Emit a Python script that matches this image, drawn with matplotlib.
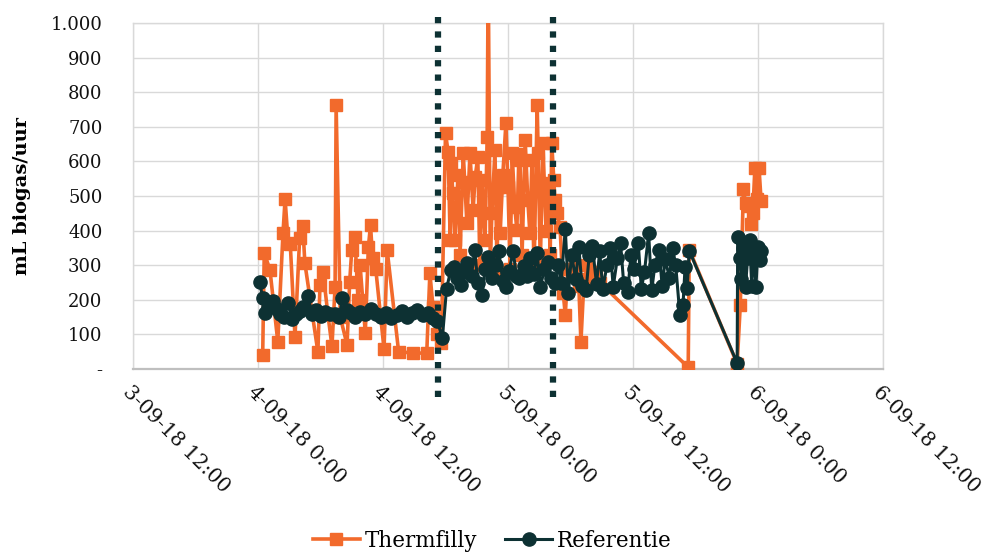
import matplotlib
matplotlib.use("Agg")
import matplotlib.pyplot as plt
import matplotlib.dates as mdates
from matplotlib.ticker import FuncFormatter, MultipleLocator
from datetime import datetime, timedelta

# ---------------- data (hours after 4-09-18 0:00) ----------------
therm_hours = [0.45, 0.6, 1.15, 1.9, 2.4, 2.6, 2.9, 3.1, 3.55, 4.0, 4.3, 4.5, 5.75, 5.95,
               6.25, 6.7, 7.1, 7.4, 7.5, 7.9, 8.55, 8.8, 9.0, 9.3, 9.6, 9.8, 10.3, 10.6,
               10.8, 11.0, 11.3, 12.1, 12.4, 13.5, 14.9, 16.2, 16.5, 16.8, 17.2, 17.6,
               18.0, 18.25, 18.45, 18.55, 18.7, 18.9, 19.2, 19.4, 19.7, 19.85, 20.05, 20.35,
               20.65, 20.85, 21.1, 21.3, 21.5, 21.8, 22.0, 22.1, 22.3, 22.45, 22.75, 22.95,
               23.05, 23.25, 23.5, 23.8, 24.0, 24.2, 24.4, 24.65, 24.85, 25.05, 25.15, 25.35,
               25.65, 25.9, 26.1, 26.3, 26.5, 26.8, 26.9, 27.1, 27.35, 27.65, 27.85, 28.05,
               28.2, 28.4, 28.5, 28.7, 29.0, 29.3, 29.5, 29.75, 30.15, 30.45, 30.8, 31.0,
               31.3, 31.7, 32.05, 32.45, 32.8,
               41.3, 41.4,
               46.0, 46.3, 46.6, 46.8, 47.0, 47.3, 47.5, 47.7, 47.9, 48.1, 48.3]
therm_values = [40, 336, 286, 79, 393, 491, 364, 360, 92, 380, 413, 306, 49, 243,
                280, 160, 66, 237, 763, 150, 70, 251, 344, 382, 200, 300, 104, 353,
                416, 321, 290, 57, 344, 50, 46, 46, 277, 180, 100, 75,
                682, 627, 373, 595, 508, 373, 560, 330, 624, 541, 422, 624,
                460, 555, 613, 300, 546, 373, 671, 1150, 300, 450, 633, 280,
                526, 393, 560, 711, 526, 290, 624, 468, 402, 620, 604, 330,
                662, 488, 393, 604, 280, 763, 624, 300, 653, 400, 537, 330,
                653, 546, 488, 451, 410, 220, 156, 290, 270, 300, 240, 78,
                260, 300, 250, 280, 250,
                5, 345,
                15, 185, 520, 480, 470, 420, 450, 580, 490, 580, 485]

ref_hours = [0.15, 0.45, 0.7, 1.0, 1.4, 1.8, 2.1, 2.5, 2.9, 3.25, 3.6, 4.0, 4.3, 4.8,
             5.2, 5.6, 6.0, 6.4, 6.9, 7.4, 7.8, 8.1, 8.5, 8.9, 9.3, 9.8, 10.3, 10.8,
             11.3, 11.8, 12.3, 12.8, 13.3, 13.8, 14.3, 14.8, 15.3, 15.8, 16.3, 16.8,
             17.2, 17.7, 18.1, 18.5,
             18.8, 19.1, 19.5, 19.8, 20.1, 20.5, 20.8, 21.1, 21.5, 21.8, 22.1, 22.5,
             22.8, 23.1, 23.5, 23.8, 24.1, 24.5, 24.8, 25.1, 25.5, 25.8, 26.1, 26.5,
             26.8, 27.1, 27.5, 27.8, 28.1, 28.5, 28.8, 29.1, 29.5, 29.8, 30.1, 30.5,
             30.8, 31.1, 31.5, 31.8, 32.1, 32.5, 32.8, 33.1, 33.5, 33.8, 34.1, 34.5,
             34.8, 35.1, 35.5, 35.8, 36.1, 36.5, 36.8, 37.1, 37.5, 37.8, 38.1, 38.5,
             38.8, 39.1, 39.5, 39.8, 40.1, 40.5, 40.8, 41.0, 41.2, 41.4,
             46.0, 46.05, 46.25, 46.4, 46.6, 46.8, 47.0, 47.2, 47.4, 47.6, 47.8, 48.0,
             48.2, 48.3]
ref_values = [252, 205, 162, 180, 197, 172, 160, 150, 192, 145, 160, 168, 180, 210,
              158, 170, 152, 165, 158, 160, 150, 205, 170, 163, 150, 165, 158, 172,
              158, 150, 163, 148, 155, 168, 150, 163, 170, 155, 163, 148,
              140, 90, 232, 285,
              295, 262, 243, 280, 306, 270, 345, 250, 214, 290, 324, 262,
              300, 342, 255, 237, 282, 342, 268, 262, 298, 270, 322, 275,
              335, 236, 290, 310, 262, 248, 300, 250, 405, 220, 330, 260,
              352, 240, 228, 330, 356, 245, 340, 232, 300, 350, 238, 320,
              365, 250, 223, 330, 290, 365, 232, 280, 392, 228, 300, 345,
              240, 318, 262, 350, 300, 156, 185, 295, 234, 342,
              17, 381, 321, 260, 350, 237, 320, 372, 240, 350, 237, 352,
              315, 340]

marker_hours = [17.25, 28.3]  # dotted vertical markers

series_names = ["Thermfilly", "Referentie"]
y_ticks = [0, 100, 200, 300, 400, 500, 600, 700, 800, 900, 1000]

# ---------------- plot ----------------
base = datetime(2018, 9, 4, 0, 0)
to_dt = lambda hs: [base + timedelta(hours=h) for h in hs]

ORANGE = "#F26A2C"
GREEN = "#0D3133"
SERIF = "DejaVu Serif"
plt.rcParams["font.family"] = SERIF

fig = plt.figure(figsize=(9.84, 5.55), dpi=100)
ax = fig.add_axes([133 / 984, 1 - 369 / 555, 750 / 984, 346 / 555])

ax.plot(to_dt(therm_hours), therm_values, color=ORANGE, lw=2.6, marker="s",
        ms=8.2, mec=ORANGE, mfc=ORANGE, label=series_names[0], zorder=3)
ax.plot(to_dt(ref_hours), ref_values, color=GREEN, lw=2.2, marker="o",
        ms=9.5, mec=GREEN, mfc=GREEN, label=series_names[1], zorder=4)

for h in marker_hours:
    t = base + timedelta(hours=h)
    ax.plot([t, t], [1018, -92], color=GREEN, lw=4.5, linestyle=(0, (1, 1.3)),
            dash_capstyle="butt", clip_on=False, zorder=6)

ax.set_xlim(datetime(2018, 9, 3, 12), datetime(2018, 9, 6, 12))
ax.set_ylim(0, 1000)
ax.xaxis.set_major_locator(mdates.HourLocator(byhour=[0, 12]))
ax.xaxis.set_major_formatter(FuncFormatter(
    lambda v, p: (lambda d: f"{d.day}-{d:%m}-{d:%y} {d.hour}:{d:%M}")(mdates.num2date(v))))
ax.set_yticks(y_ticks)
ax.yaxis.set_major_formatter(FuncFormatter(
    lambda v, p: "-" if v == 0 else ("1.000" if v == 1000 else f"{int(v)}")))

ax.grid(True, color="#D9D9D9", lw=1.0, zorder=0)
ax.set_axisbelow(True)
for s in ["left", "right", "top"]:
    ax.spines[s].set_color("#D9D9D9")
    ax.spines[s].set_linewidth(1.0)
ax.spines["bottom"].set_color("#BFBFBF")
ax.spines["bottom"].set_linewidth(1.6)

ax.tick_params(axis="both", length=0)
ax.tick_params(axis="y", labelsize=13, pad=22, colors="#111111")
ax.tick_params(axis="x", labelsize=14.5, pad=10, colors="#111111")
for lbl in ax.get_xticklabels():
    lbl.set_rotation(-45)
    lbl.set_ha("left")
    lbl.set_va("top")
    lbl.set_rotation_mode("anchor")

ax.set_ylabel("mL biogas/uur", fontsize=14, fontweight="bold")
ax.yaxis.set_label_coords(-0.136, 0.5)

fig.legend(loc="center", bbox_to_anchor=(0.5, 1 - 541 / 555), ncol=2, frameon=False,
           fontsize=15.5, handlelength=2.2, handletextpad=0.2, columnspacing=1.3)

fig.savefig("out.png", dpi=100)
